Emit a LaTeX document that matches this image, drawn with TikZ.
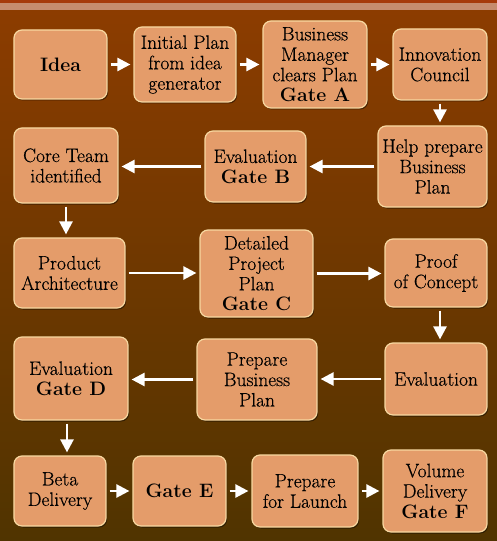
\documentclass[tikz,border=0pt]{standalone}
\usepackage{fontspec}
\newfontfamily\boxfont{Latin Modern Roman}[FakeBold=0.45]
\newfontfamily\plainlm{Latin Modern Roman}
\newcommand{\gatetxt}[1]{{\plainlm\bfseries #1}}
\usetikzlibrary{arrows.meta,shadows,calc}
\definecolor{bgtop}{RGB}{140,60,0}
\definecolor{bgbot}{RGB}{80,52,0}
\definecolor{boxfill}{RGB}{228,156,106}
\definecolor{boxedge}{RGB}{248,216,160}
\definecolor{topband}{RGB}{166,58,10}
\definecolor{lightband}{RGB}{198,140,110}
\begin{document}
\begin{tikzpicture}[x=1bp,y=-1bp,
  box/.style={rectangle, rounded corners=8bp, fill=boxfill, draw=boxedge,
    line width=1.2bp, align=center, text=black, inner sep=1bp,
    font=\boxfont\fontsize{19.5}{20.5}\selectfont,
    drop shadow={shadow xshift=1.2bp, shadow yshift=-1.5bp, opacity=0.45, fill=black}},
  arr/.style={draw=white, line width=2.5bp, -{Triangle[length=13bp,width=13bp]},
    shorten <=3bp, shorten >=3bp}]
\useasboundingbox (0,0) rectangle (497,541);
\shade[top color=bgtop, bottom color=bgbot] (0,10) rectangle (497,541);
\fill[topband] (0,0) rectangle (497,3.5);
\fill[lightband] (0,3.5) rectangle (497,10);

% row 1
\node[box, minimum width=93bp, minimum height=69bp] (idea) at (60.5,64.5) {\gatetxt{Idea}};
\node[box, minimum width=102bp, minimum height=75bp] (init) at (185,64.5) {Initial Plan\\from idea\\generator};
\node[box, minimum width=104bp, minimum height=87bp] (bm) at (315,64.5) {Business\\Manager\\clears Plan\\\gatetxt{Gate A}};
\node[box, minimum width=94bp, minimum height=71bp] (innov) at (440,64.5) {Innovation\\Council};
% row 2
\node[box, minimum width=104bp, minimum height=75bp] (core) at (66,165.5) {Core Team\\identified};
\node[box, minimum width=101bp, minimum height=71bp] (evalb) at (255.5,166.5) {Evaluation\\\gatetxt{Gate B}};
\node[box, minimum width=109bp, minimum height=81bp] (help) at (432.5,166.5) {Help prepare\\Business\\Plan};
% row 3
\node[box, minimum width=111bp, minimum height=70bp] (prod) at (69.5,273) {Product\\Architecture};
\node[box, minimum width=113bp, minimum height=87bp] (detail) at (256.5,273.5) {Detailed\\Project\\Plan\\\gatetxt{Gate C}};
\node[box, minimum width=102bp, minimum height=68bp] (proof) at (436,273) {Proof\\of Concept};
% row 4
\node[box, minimum width=114bp, minimum height=83bp] (evald) at (71,378.5) {Evaluation\\\gatetxt{Gate D}};
\node[box, minimum width=120bp, minimum height=81bp] (prep) at (257,379.5) {Prepare\\Business\\Plan};
\node[box, minimum width=102bp, minimum height=72bp] (evalu) at (436,379) {Evaluation};
% row 5
\node[box, minimum width=92bp, minimum height=70bp] (beta) at (60,491) {Beta\\Delivery};
\node[box, minimum width=93bp, minimum height=70bp] (gatee) at (179.5,491) {\gatetxt{Gate E}};
\node[box, minimum width=106bp, minimum height=72bp] (launch) at (305,491) {Prepare\\for Launch};
\node[box, minimum width=104bp, minimum height=82bp] (vol) at (435,491) {Volume\\Delivery\\\gatetxt{Gate F}};

% arrows
\draw[arr] (idea.east) -- (idea.east -| init.west);
\draw[arr] (init.east) -- (init.east -| bm.west);
\draw[arr] (bm.east) -- (bm.east -| innov.west);
\draw[arr] (innov.south) -- (innov.south |- help.north);
\draw[arr] (help.west) -- (help.west -| evalb.east);
\draw[arr] (evalb.west) -- (evalb.west -| core.east);
\draw[arr] (core.south) -- (core.south |- prod.north);
\draw[arr] (prod.east) -- (prod.east -| detail.west);
\draw[arr] (detail.east) -- (detail.east -| proof.west);
\draw[arr] ([xshift=4bp]proof.south) -- ([xshift=4bp]proof.south |- evalu.north);
\draw[arr] (evalu.west) -- (evalu.west -| prep.east);
\draw[arr] (prep.west) -- (prep.west -| evald.east);
\draw[arr] ([xshift=-4bp]evald.south) -- ([xshift=-4bp]evald.south |- beta.north);
\draw[arr] (beta.east) -- (beta.east -| gatee.west);
\draw[arr] (gatee.east) -- (gatee.east -| launch.west);
\draw[arr] (launch.east) -- (launch.east -| vol.west);
\end{tikzpicture}
\end{document}
